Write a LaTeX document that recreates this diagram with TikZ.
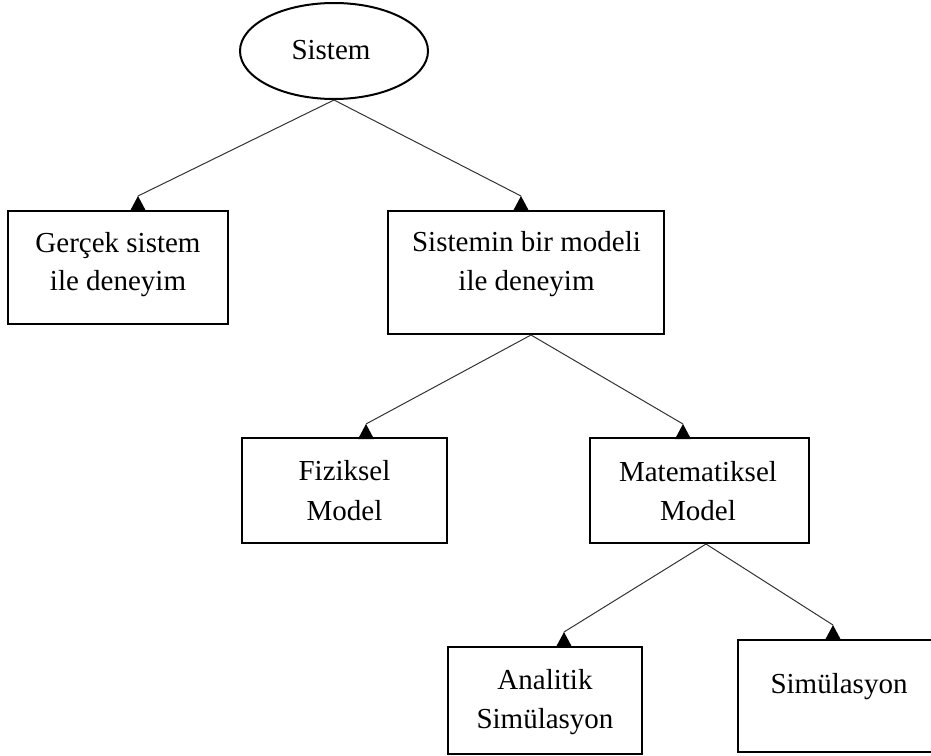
\documentclass[tikz,border=0pt]{standalone}
\usepackage{fontspec}
\setmainfont{Liberation Serif}
\usetikzlibrary{shapes.geometric}
\begin{document}
\begin{tikzpicture}[x=1pt,y=-1pt,
  box/.style={draw, line width=2pt, inner sep=0pt},
  lbl/.style={anchor=base, inner sep=0pt, font=\fontsize{29}{37}\selectfont},
  conn/.style={draw=black!80, line width=1pt},
  tipmark/.style={fill=black}]
\useasboundingbox (0,0) rectangle (931,755);

% root ellipse
\node[draw, ellipse, line width=2pt, inner sep=0pt,
      minimum width=188, minimum height=96] (sys) at (334,51) {};
\node[lbl] (sysT) at (331,59.3) {Sistem};

% boxes
\node[box, minimum width=220, minimum height=113] (b1) at (118,267.5) {};
\node[box, minimum width=276, minimum height=123] (b2) at (526,272.5) {};
\node[box, minimum width=205, minimum height=105] (b3) at (344.5,490.5) {};
\node[box, minimum width=219, minimum height=105] (b4) at (699.5,490.5) {};
\node[box, minimum width=194, minimum height=107] (b5) at (545,700.5) {};
\node[box, minimum width=202, minimum height=112] (b6) at (839,696) {};

% box texts
\node[lbl] (b1a) at (118,252.7) {Gerçek sistem};
\node[lbl] (b1b) at (118,290) {ile deneyim};
\node[lbl] (b2a) at (526.5,251.7) {Sistemin bir modeli};
\node[lbl] (b2b) at (526.5,290) {ile deneyim};
\node[lbl] (b3a) at (344.5,480.7) {Fiziksel};
\node[lbl] (b3b) at (344.5,520) {Model};
\node[lbl] (b4a) at (698,481) {Matematiksel};
\node[lbl] (b4b) at (698,520) {Model};
\node[lbl] (b5a) at (545,689) {Analitik};
\node[lbl] (b5b) at (545,728) {Simülasyon};
\node[lbl] (b6a) at (839,693) {Simülasyon};

% arrow tips sitting on the box tops
\coordinate (t1) at (138,196);
\coordinate (t2) at (521,196);
\coordinate (t3) at (366,424);
\coordinate (t4) at (683,424);
\coordinate (t5) at (564,632);
\coordinate (t6) at (833,625);
\coordinate (s2) at ([xshift=5pt]b2.south);
\coordinate (s4) at ([xshift=6.5pt]b4.south);

% connectors
\draw[conn] (sys.south) -- (t1);
\draw[conn] (sys.south) -- (t2);
\draw[conn] (s2) -- (t3);
\draw[conn] (s2) -- (t4);
\draw[conn] (s4) -- (t5);
\draw[conn] (s4) -- (t6);

\foreach \t in {t1,t2,t3,t4,t5,t6}
  \fill[tipmark] (\t) -- ++(-8,15) -- ++(16,0) -- cycle;
\end{tikzpicture}
\end{document}
